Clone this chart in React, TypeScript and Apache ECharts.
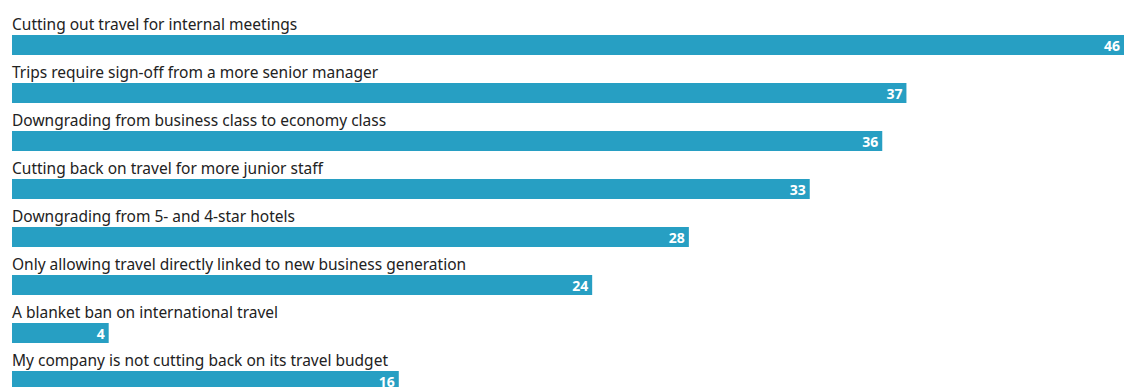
import React, { useEffect, useRef } from "react";
import * as echarts from "echarts";

const categories = [
  "Cutting out travel for internal meetings",
  "Trips require sign-off from a more senior manager",
  "Downgrading from business class to economy class",
  "Cutting back on travel for more junior staff",
  "Downgrading from 5- and 4-star hotels",
  "Only allowing travel directly linked to new business generation",
  "A blanket ban on international travel",
  "My company is not cutting back on its travel budget",
];
const values = [46, 37, 36, 33, 28, 24, 4, 16];

const BAR_COLOR = "#279fc3";
const FONT = "'Noto Sans', sans-serif";

export default function App() {
  const ref = useRef<HTMLDivElement>(null);
  useEffect(() => {
    document.body.style.margin = "0";
    document.body.style.overflow = "hidden";
    const chart = echarts.init(ref.current!, null, { renderer: "svg" });
    chart.setOption({
      animation: false,
      grid: { left: 12, top: 21, width: 1112, height: 384 },
      xAxis: { type: "value", min: 0, max: 46, show: false },
      yAxis: {
        type: "category",
        data: categories,
        inverse: true,
        show: false,
      },
      series: [
        {
          type: "bar",
          data: values,
          barWidth: 20,
          barGap: "-100%",
          itemStyle: { color: "rgba(0,0,0,0)" },
          silent: true,
          z: 1,
          label: {
            show: true,
            position: [0, -3],
            align: "left",
            verticalAlign: "bottom",
            formatter: "{b}",
            color: "#222",
            fontFamily: FONT,
            fontSize: 15.5,
          },
        },
        {
          type: "bar",
          data: values,
          barWidth: 20,
          barGap: "-100%",
          itemStyle: { color: BAR_COLOR },
          z: 2,
          label: {
            show: true,
            position: "insideRight",
            distance: 4,
            color: "#fff",
            fontWeight: "bold",
            fontFamily: FONT,
            fontSize: 14,
          },
        },
      ],
    });
    return () => chart.dispose();
  }, []);
  return <div ref={ref} style={{ width: 1136, height: 405 }} />;
}
